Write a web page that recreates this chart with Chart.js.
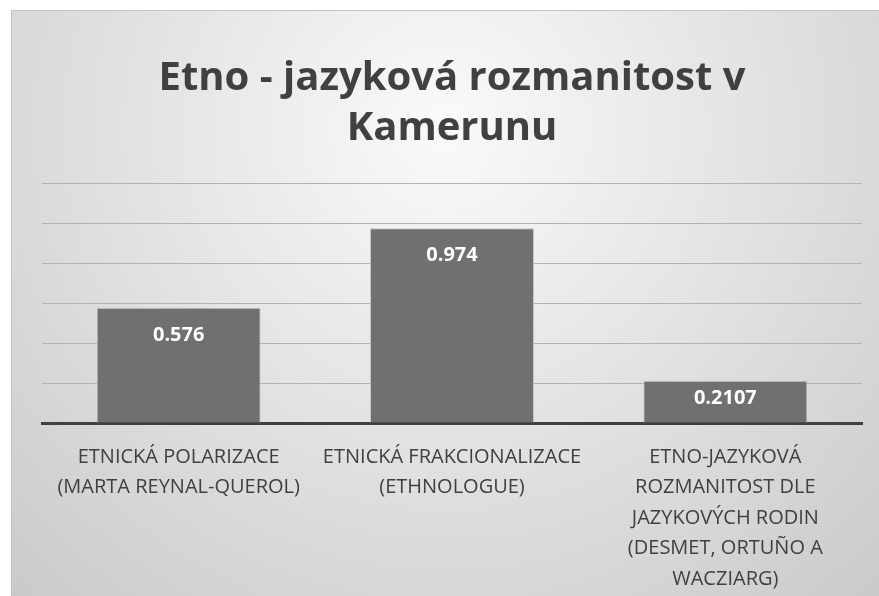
<!DOCTYPE html>
<html>
<head>
<meta charset="utf-8">
<script src="https://cdn.jsdelivr.net/npm/chart.js@4"></script>
<style>
  html, body { margin: 0; padding: 0; background: #fff; }
  .chart-container {
    position: absolute;
    left: 11px;
    top: 10px;
    width: 868px;
    height: 586px;
    border-top: 1px solid #c4c4c4;
    border-left: 1px solid #c4c4c4;
    box-sizing: border-box;
  }
</style>
</head>
<body>
<div class="chart-container"><canvas id="myChart"></canvas></div>
<script>
const categories = [
  ["ETNICKÁ POLARIZACE", "(MARTA REYNAL-QUEROL)"],
  ["ETNICKÁ FRAKCIONALIZACE", "(ETHNOLOGUE)"],
  ["ETNO-JAZYKOVÁ", "ROZMANITOST DLE", "JAZYKOVÝCH RODIN", "(DESMET, ORTUÑO A", "WACZIARG)"],
];
const values = [0.576, 0.974, 0.2107];
const valueLabels = ["0.576", "0.974", "0.2107"];
const titleLines = ["Etno - jazyková rozmanitost v", "Kamerunu"];

const fontFamily = "'Open Sans', 'Liberation Sans', sans-serif";

// gray radial background like the office chart style
const backgroundPlugin = {
  id: "bg",
  beforeDraw(chart) {
    const { ctx, width, height } = chart;
    const g = ctx.createRadialGradient(width * 0.5, height * 0.2, 0, width * 0.5, height * 0.2, width * 0.75);
    g.addColorStop(0, "#fafafa");
    g.addColorStop(1, "#c9c9c9");
    ctx.save();
    ctx.fillStyle = g;
    ctx.fillRect(0, 0, width, height);
    ctx.restore();
  },
};

// value labels inside the bars, near the top
const valueLabelPlugin = {
  id: "valueLabels",
  afterDatasetsDraw(chart) {
    const { ctx } = chart;
    const meta = chart.getDatasetMeta(0);
    const base = chart.scales.y.getPixelForValue(0);
    ctx.save();
    ctx.fillStyle = "#ffffff";
    ctx.font = "bold 20px " + fontFamily;
    ctx.textAlign = "center";
    ctx.textBaseline = "middle";
    meta.data.forEach((bar, i) => {
      const y = Math.min(bar.y + 27, base - 25);
      ctx.fillText(valueLabels[i], bar.x, y);
    });
    ctx.restore();
  },
};

const ctx = document.getElementById("myChart").getContext("2d");

new Chart(ctx, {
  type: "bar",
  data: {
    labels: categories,
    datasets: [
      {
        data: values,
        backgroundColor: "#707070",
        borderColor: "#c6c6c6",
        borderWidth: 1,
        categoryPercentage: 1,
        barPercentage: 0.6,
      },
    ],
  },
  options: {
    responsive: true,
    maintainAspectRatio: false,
    animation: false,
    layout: { padding: { left: 30, right: 17, top: 0, bottom: -17 } },
    plugins: {
      legend: { display: false },
      tooltip: { enabled: false },
      title: {
        display: true,
        text: titleLines,
        color: "#404040",
        font: { family: fontFamily, size: 40, weight: "bold", lineHeight: 1.25 },
        padding: { top: 43, bottom: 29 },
      },
    },
    scales: {
      x: {
        grid: { display: false, drawTicks: false },
        border: { display: true, color: "#404040", width: 3 },
        ticks: {
          color: "#404040",
          font: { family: fontFamily, size: 20, lineHeight: 1.52 },
          padding: 19,
          maxRotation: 0,
          autoSkip: false,
        },
      },
      y: {
        min: 0,
        max: 1.2,
        ticks: { display: false, stepSize: 0.2 },
        grid: { color: "#b2b2b2", lineWidth: 1, drawTicks: false },
        border: { display: false },
      },
    },
  },
  plugins: [backgroundPlugin, valueLabelPlugin],
});
</script>
</body>
</html>
